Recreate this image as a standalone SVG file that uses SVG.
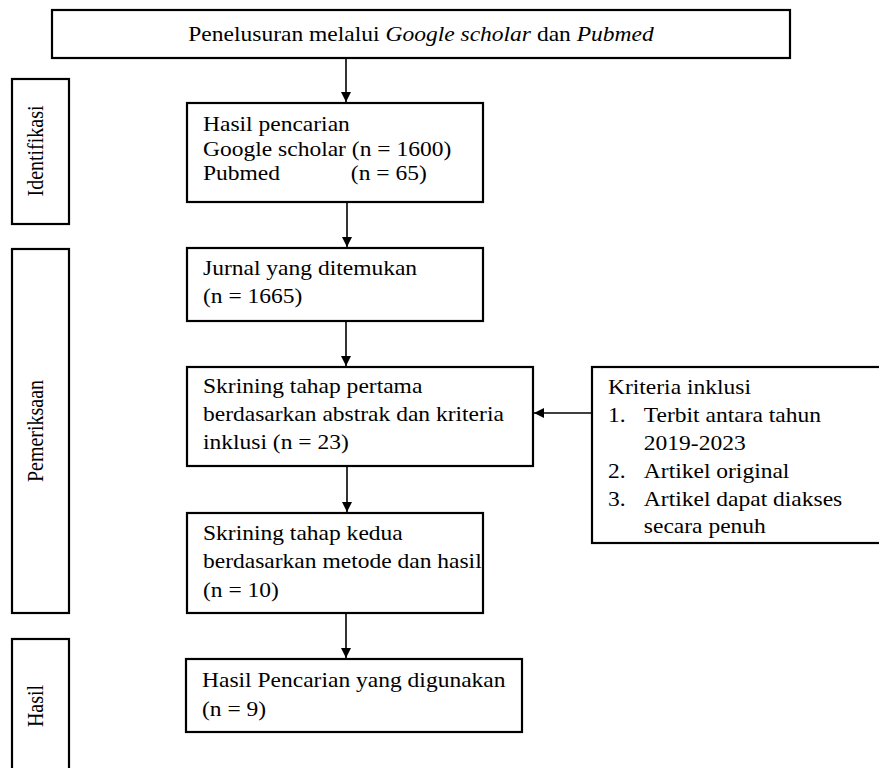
<svg xmlns="http://www.w3.org/2000/svg" width="879" height="768" viewBox="0 0 879 768">
<style>
.box{fill:#fff;stroke:#000;stroke-width:2.2}
.t{font-family:"Liberation Serif","Times New Roman",serif;font-size:21px;fill:#000}
.v{font-family:"Liberation Serif","Times New Roman",serif;font-size:20px;fill:#000}
.c{stroke:#000;stroke-width:1.6;fill:none}
</style>
<defs>
<marker id="ah" viewBox="0 0 10 10" refX="10" refY="5" markerWidth="10" markerHeight="10" markerUnits="userSpaceOnUse" orient="auto">
<path d="M0,0 L10,5 L0,10 z" fill="#000"/>
</marker>
</defs>
<rect width="879" height="768" fill="#fff"/>
<g id="top">
<rect class="box" x="52" y="10" width="738" height="48"/>
<g transform="translate(421,0) scale(1.12,1)">
<text class="t" x="0" y="41" text-anchor="middle">Penelusuran melalui <tspan font-style="italic">Google scholar</tspan> dan <tspan font-style="italic">Pubmed</tspan></text>
</g>
</g>
<g id="lbl-identifikasi">
<rect class="box" x="12" y="79" width="57" height="145"/>
<text class="v" transform="translate(43,151) scale(1.15,1) rotate(-90)" text-anchor="middle">Identifikasi</text>
</g>
<g id="lbl-pemeriksaan">
<rect class="box" x="12" y="249" width="57" height="364"/>
<text class="v" transform="translate(43,431) scale(1.15,1) rotate(-90)" text-anchor="middle">Pemeriksaan</text>
</g>
<g id="lbl-hasil">
<rect class="box" x="12" y="639" width="57" height="140"/>
<text class="v" transform="translate(43,706) scale(1.15,1) rotate(-90)" text-anchor="middle">Hasil</text>
</g>
<g id="hasil-pencarian">
<rect class="box" x="187" y="103" width="296" height="99"/>
<g transform="translate(203,0) scale(1.12,1)">
<text class="t" x="0" y="131">Hasil pencarian</text>
<text class="t" x="0" y="156">Google scholar (n = 1600)</text>
<text class="t" x="0" y="180">Pubmed<tspan x="132">(n = 65)</tspan></text>
</g>
</g>
<g id="jurnal">
<rect class="box" x="187" y="248" width="296" height="73"/>
<g transform="translate(203,0) scale(1.12,1)">
<text class="t" x="0" y="275">Jurnal yang ditemukan</text>
<text class="t" x="0" y="303">(n = 1665)</text>
</g>
</g>
<g id="skrining1">
<rect class="box" x="187" y="367" width="346" height="99"/>
<g transform="translate(203,0) scale(1.12,1)">
<text class="t" x="0" y="393">Skrining tahap pertama</text>
<text class="t" x="0" y="421">berdasarkan abstrak dan kriteria</text>
<text class="t" x="0" y="449">inklusi (n = 23)</text>
</g>
</g>
<g id="skrining2">
<rect class="box" x="187" y="513" width="296" height="100"/>
<g transform="translate(203,0) scale(1.12,1)">
<text class="t" x="0" y="540">Skrining tahap kedua</text>
<text class="t" x="0" y="568">berdasarkan metode dan hasil</text>
<text class="t" x="0" y="597">(n = 10)</text>
</g>
</g>
<g id="kriteria">
<rect class="box" x="592" y="367" width="290" height="176"/>
<g transform="translate(608,0) scale(1.12,1)">
<text class="t" x="0" y="394">Kriteria inklusi</text>
<text class="t" x="0" y="422">1.<tspan x="32">Terbit antara tahun</tspan></text>
<text class="t" x="32" y="450">2019-2023</text>
<text class="t" x="0" y="478">2.<tspan x="32">Artikel original</tspan></text>
<text class="t" x="0" y="506">3.<tspan x="32">Artikel dapat diakses</tspan></text>
<text class="t" x="32" y="533">secara penuh</text>
</g>
</g>
<g id="final">
<rect class="box" x="186" y="659" width="336" height="73"/>
<g transform="translate(202,0) scale(1.12,1)">
<text class="t" x="0" y="687">Hasil Pencarian yang digunakan</text>
<text class="t" x="0" y="716">(n = 9)</text>
</g>
</g>
<g id="connectors">
<line class="c" x1="346" y1="58" x2="346" y2="102" marker-end="url(#ah)"/>
<line class="c" x1="347" y1="202" x2="347" y2="247" marker-end="url(#ah)"/>
<line class="c" x1="346" y1="321" x2="346" y2="366" marker-end="url(#ah)"/>
<line class="c" x1="347" y1="466" x2="347" y2="512" marker-end="url(#ah)"/>
<line class="c" x1="346" y1="613" x2="346" y2="658" marker-end="url(#ah)"/>
<line class="c" x1="592" y1="413" x2="534" y2="413" marker-end="url(#ah)"/>
</g>
</svg>
